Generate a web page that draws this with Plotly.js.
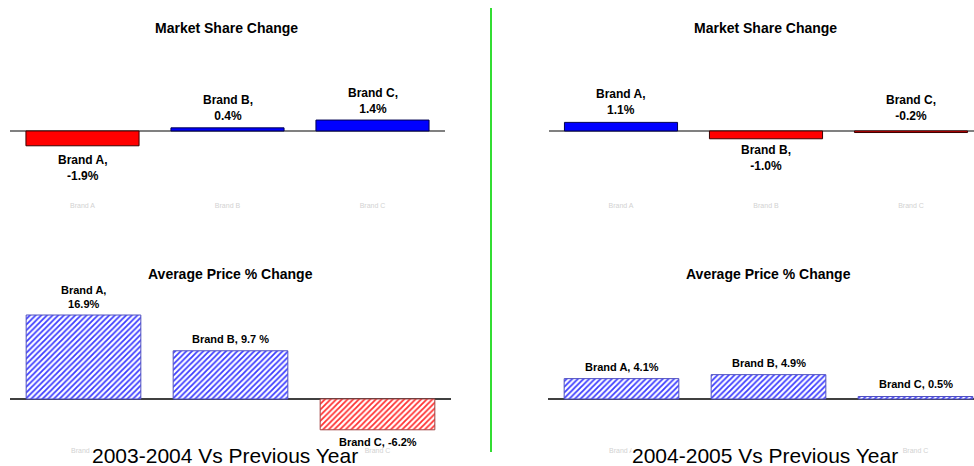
<!DOCTYPE html>
<html>
<head>
<meta charset="utf-8">
<script src="https://cdn.plot.ly/plotly-3.0.1.min.js"></script>
<style>html,body{margin:0;padding:0;background:#fff;}#chart{width:974px;height:466px;}</style>
</head>
<body>
<div id="chart"></div>
<script>
// ---- data ----
const brands = ["Brand A", "Brand B", "Brand C"];
const share0304 = [-1.9, 0.4, 1.4];
const share0405 = [1.1, -1.0, -0.2];
const price0304 = [16.9, 9.7, -6.2];
const price0405 = [4.1, 4.9, 0.5];
const shareLabels0304 = ["Brand A,<br>-1.9%", "Brand B,<br>0.4%", "Brand C,<br>1.4%"];
const shareLabels0405 = ["Brand A,<br>1.1%", "Brand B,<br>-1.0%", "Brand C,<br>-0.2%"];
const priceLabels0304 = ["Brand A,<br>16.9%", "Brand B, 9.7 %", "Brand C, -6.2%"];
const priceLabels0405 = ["Brand A, 4.1%", "Brand B, 4.9%", "Brand C, 0.5%"];
const shareTitle = "Market Share Change";
const priceTitle = "Average Price % Change";
const caption0304 = "2003-2004 Vs Previous Year";
const caption0405 = "2004-2005 Vs Previous Year";

// ---- layout helpers ----
const W = 974, H = 466;
const xp = p => p / W;
const yp = p => 1 - p / H;
const FONT = "Liberation Sans, Arial, sans-serif";

function solidColors(vals) { return vals.map(v => v < 0 ? "#ff0000" : "#0000ff"); }
function solidLines(vals) { return vals.map(v => v < 0 ? "#3a0000" : "#000050"); }
function hatchColors(vals) { return vals.map(v => v < 0 ? "#ff3030" : "#3c3cff"); }
function hatchLines(vals) { return vals.map(v => v < 0 ? "#a04040" : "#5050c0"); }

const traces = [
  {type: "bar", x: brands, y: share0304, xaxis: "x", yaxis: "y", width: 0.78,
   marker: {color: solidColors(share0304), line: {color: solidLines(share0304), width: 1}}},
  {type: "bar", x: brands, y: share0405, xaxis: "x2", yaxis: "y2", width: 0.78,
   marker: {color: solidColors(share0405), line: {color: solidLines(share0405), width: 1}}},
  {type: "bar", x: brands, y: price0304, xaxis: "x3", yaxis: "y3", width: 0.78,
   marker: {color: "#ffffff", line: {color: hatchLines(price0304), width: 1},
            pattern: {shape: "/", fgcolor: hatchColors(price0304), bgcolor: "#ffffff", size: 4, solidity: 0.45}}},
  {type: "bar", x: brands, y: price0405, xaxis: "x4", yaxis: "y4", width: 0.78,
   marker: {color: "#ffffff", line: {color: hatchLines(price0405), width: 1},
            pattern: {shape: "/", fgcolor: hatchColors(price0405), bgcolor: "#ffffff", size: 4, solidity: 0.45}}}
];
traces.forEach(t => { t.hoverinfo = "skip"; t.showlegend = false; });

function xax(d0, d1, r1, anchor) {
  return {domain: [xp(d0), xp(d1)], range: [-0.5, r1], anchor: anchor, type: "category",
          showgrid: false, showline: false, zeroline: false, ticks: "", fixedrange: true,
          tickfont: {family: FONT, size: 7, color: "#d2d2d2"}};
}
function yax(top, bottom, rng, zc, zw) {
  return {domain: [yp(bottom), yp(top)], range: rng, showgrid: false, showline: false,
          showticklabels: false, ticks: "", zeroline: true, zerolinecolor: zc, zerolinewidth: zw, fixedrange: true};
}

const annotations = [];

function caption(text, cx, cy) {
  annotations.push({x: xp(cx), y: yp(cy), xref: "paper", yref: "paper", text: text, showarrow: false,
    xanchor: "center", yanchor: "middle", bgcolor: "#ffffff", borderpad: 0,
    font: {family: FONT, size: 21, color: "#000"}});
}
caption(caption0304, 225, 455);
caption(caption0405, 765, 455);

function addLabels(labels, vals, xref, yref, sides, shifts, size) {
  labels.forEach((t, i) => {
    const above = sides[i] === "above";
    annotations.push({x: brands[i], y: above ? Math.max(vals[i], 0) : Math.min(vals[i], 0),
      xref: xref, yref: yref, text: "<b>" + t + "</b>", showarrow: false,
      yanchor: above ? "bottom" : "top", yshift: above ? shifts[i] : -shifts[i],
      font: {family: FONT, size: size, color: "#000"}});
  });
}
addLabels(shareLabels0304, share0304, "x", "y", ["below", "above", "above"], [5, 3, 2], 12);
addLabels(shareLabels0405, share0405, "x2", "y2", ["above", "below", "above"], [3, 2, 6], 12);
addLabels(priceLabels0304, price0304, "x3", "y3", ["above", "above", "below"], [3, 4, 4], 11);
addLabels(priceLabels0405, price0405, "x4", "y4", ["above", "above", "above"], [4, 4, 5], 11);

function title(text, cx, cy) {
  annotations.push({x: xp(cx), y: yp(cy), xref: "paper", yref: "paper", text: "<b>" + text + "</b>",
    showarrow: false, xanchor: "center", yanchor: "middle", font: {family: FONT, size: 14, color: "#000"}});
}
title(shareTitle, 226, 28);
title(shareTitle, 765, 28);
title(priceTitle, 230, 274);
title(priceTitle, 768, 274);

const layout = {
  width: W, height: H, margin: {l: 0, r: 0, t: 0, b: 0},
  paper_bgcolor: "#ffffff", plot_bgcolor: "rgba(0,0,0,0)", showlegend: false, bargap: 0,
  font: {family: FONT},
  xaxis: xax(10, 445, 2.5, "y"),
  yaxis: yax(50, 200, [-8.85, 10.38], "#808080", 2),
  xaxis2: xax(548.5, 974, -0.5 + 425.5 / 145, "y2"),
  yaxis2: yax(50, 200, [-8.85, 10.38], "#808080", 2),
  xaxis3: xax(10, 451, 2.5, "y3"),
  yaxis3: yax(290, 445, [-9.26, 21.93], "#404040", 1.5),
  xaxis4: xax(548, 974, -0.5 + 426 / 147, "y4"),
  yaxis4: yax(290, 445, [-9.26, 21.93], "#404040", 1.5),
  annotations: annotations,
  shapes: [{type: "line", xref: "paper", yref: "paper", x0: xp(491), x1: xp(491), y0: yp(8), y1: yp(452),
            line: {color: "#33dd33", width: 2}, layer: "above"}]
};

Plotly.newPlot("chart", traces, layout, {staticPlot: true, displayModeBar: false});
</script>
</body>
</html>
